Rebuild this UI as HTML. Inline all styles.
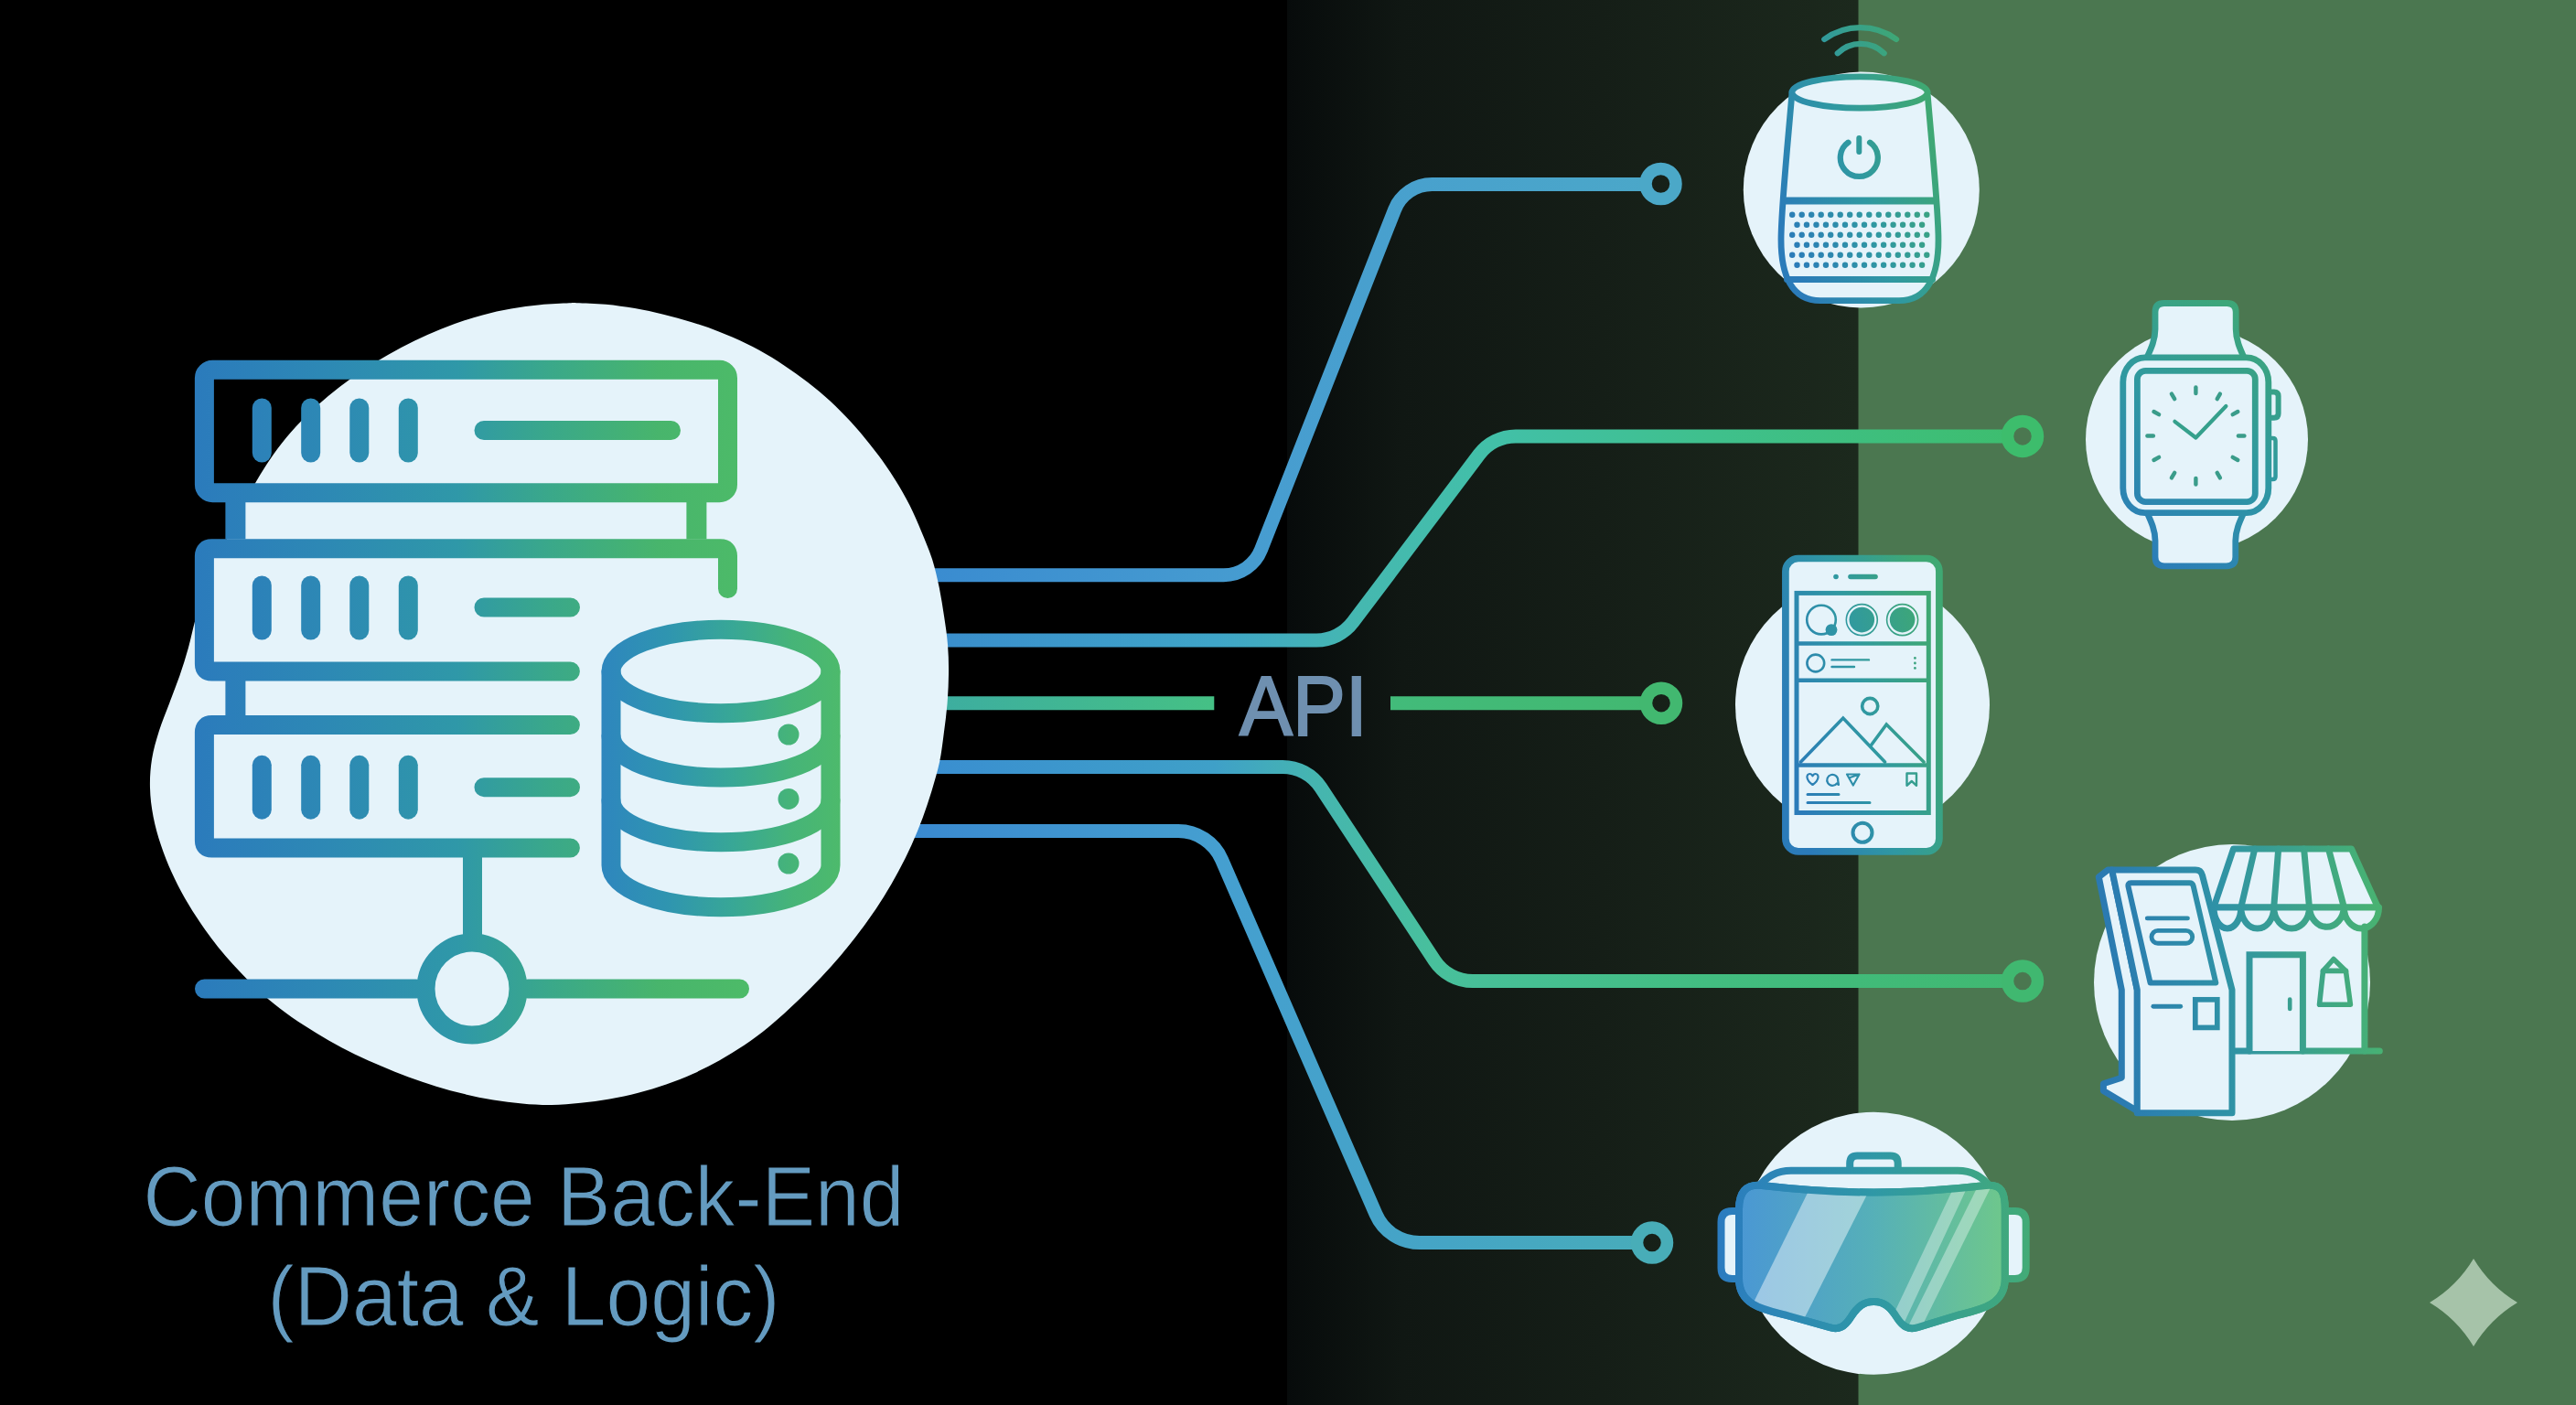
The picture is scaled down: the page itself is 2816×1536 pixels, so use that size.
<!DOCTYPE html>
<html><head><meta charset="utf-8"><title>Commerce Back-End API diagram</title>
<style>
html,body{margin:0;padding:0;background:#000;}
body{width:2816px;height:1536px;overflow:hidden;font-family:"Liberation Sans",sans-serif;}
svg{display:block;}
text{font-family:"Liberation Sans",sans-serif;}
</style></head><body>
<svg width="2816" height="1536" viewBox="0 0 2816 1536">
<defs>
<linearGradient id="bgd" gradientUnits="userSpaceOnUse" x1="1407" y1="0" x2="2031.5" y2="0"><stop offset="0" stop-color="#070b0b"/><stop offset="0.2" stop-color="#101713"/><stop offset="0.55" stop-color="#151e17"/><stop offset="1" stop-color="#1c291d"/></linearGradient>
<linearGradient id="gl1" gradientUnits="userSpaceOnUse" x1="1020" y1="0" x2="1840" y2="0"><stop offset="0" stop-color="#3a8cd0"/><stop offset="0.45" stop-color="#479dd0"/><stop offset="1" stop-color="#4ba8c8"/></linearGradient>
<linearGradient id="gl2" gradientUnits="userSpaceOnUse" x1="1030" y1="0" x2="2235" y2="0"><stop offset="0" stop-color="#3a8ecc"/><stop offset="0.25" stop-color="#3fa5c8"/><stop offset="0.38" stop-color="#45b8b0"/><stop offset="0.5" stop-color="#42c0a8"/><stop offset="0.7" stop-color="#3fc08c"/><stop offset="1" stop-color="#3dbd6c"/></linearGradient>
<linearGradient id="gl3" gradientUnits="userSpaceOnUse" x1="1035" y1="0" x2="1840" y2="0"><stop offset="0" stop-color="#3dae9f"/><stop offset="0.36" stop-color="#45c085"/><stop offset="0.6" stop-color="#42bb7a"/><stop offset="1" stop-color="#42b870"/></linearGradient>
<linearGradient id="gl4" gradientUnits="userSpaceOnUse" x1="1025" y1="0" x2="2235" y2="0"><stop offset="0" stop-color="#3a8fd0"/><stop offset="0.25" stop-color="#3fa0c8"/><stop offset="0.34" stop-color="#45b5b0"/><stop offset="0.45" stop-color="#48c09c"/><stop offset="0.7" stop-color="#42bd80"/><stop offset="1" stop-color="#40b870"/></linearGradient>
<linearGradient id="gl5" gradientUnits="userSpaceOnUse" x1="1000" y1="0" x2="1830" y2="0"><stop offset="0" stop-color="#3a8ad0"/><stop offset="0.4" stop-color="#459fd0"/><stop offset="0.7" stop-color="#45a5c5"/><stop offset="1" stop-color="#48adb8"/></linearGradient>
<linearGradient id="gs" gradientUnits="userSpaceOnUse" x1="213" y1="0" x2="819" y2="0"><stop offset="0" stop-color="#2b7bbc"/><stop offset="0.226" stop-color="#2d88b5"/><stop offset="0.474" stop-color="#2f98a8"/><stop offset="0.639" stop-color="#3aa88a"/><stop offset="0.837" stop-color="#48b56c"/><stop offset="1" stop-color="#4dbb68"/></linearGradient>
<linearGradient id="gdb" gradientUnits="userSpaceOnUse" x1="657" y1="0" x2="918" y2="0"><stop offset="0" stop-color="#2e86be"/><stop offset="0.28" stop-color="#2f95b0"/><stop offset="0.55" stop-color="#38a796"/><stop offset="0.8" stop-color="#46b478"/><stop offset="1" stop-color="#4dba6c"/></linearGradient>
<linearGradient id="gsp" gradientUnits="userSpaceOnUse" x1="1943" y1="235" x2="2124" y2="175"><stop offset="0" stop-color="#2b7bb9"/><stop offset="0.5" stop-color="#2f98a2"/><stop offset="1" stop-color="#3fa873"/></linearGradient>
<linearGradient id="gw" gradientUnits="userSpaceOnUse" x1="2317" y1="600" x2="2494" y2="350"><stop offset="0" stop-color="#2b7bb9"/><stop offset="0.5" stop-color="#2f98a2"/><stop offset="1" stop-color="#3fa873"/></linearGradient>
<linearGradient id="gp" gradientUnits="userSpaceOnUse" x1="1948" y1="790" x2="2124" y2="750"><stop offset="0" stop-color="#2b7bb9"/><stop offset="0.5" stop-color="#2f98a2"/><stop offset="1" stop-color="#3fa873"/></linearGradient>
<linearGradient id="gk" gradientUnits="userSpaceOnUse" x1="2290" y1="1080" x2="2602" y2="1060"><stop offset="0" stop-color="#2a77b3"/><stop offset="0.45" stop-color="#2f92a6"/><stop offset="1" stop-color="#48b272"/></linearGradient>
<linearGradient id="gv" gradientUnits="userSpaceOnUse" x1="1876" y1="1360" x2="2221" y2="1360"><stop offset="0" stop-color="#2b7bc0"/><stop offset="0.5" stop-color="#2f98a6"/><stop offset="1" stop-color="#43ab76"/></linearGradient>
<linearGradient id="gvf" gradientUnits="userSpaceOnUse" x1="1900" y1="1360" x2="2196" y2="1360"><stop offset="0" stop-color="#4a97d4"/><stop offset="0.5" stop-color="#56b0b8"/><stop offset="1" stop-color="#6fc88a"/></linearGradient>
<clipPath id="cv"><path d="M1901,1322C1901,1304 1908,1294 1926,1296C1965,1300.5 2008,1303.5 2048.3,1303.5C2088.6,1303.5 2131.6,1300.5 2170.6,1296C2188.6,1294 2191.8,1304 2191.8,1322V1398C2191.8,1428 2163,1432 2138,1438.5L2097,1451C2086,1454.5 2080,1450 2074,1441C2066,1428 2059,1423 2048.3,1423C2037.6,1423 2030.6,1428 2022.6,1441C2016.6,1450 2010.6,1454.5 1999.6,1451L1955,1438.5C1930,1432 1901,1428 1901,1398Z"/></clipPath>
</defs>
<rect x="0" y="0" width="2816" height="1536" fill="#000"/>
<rect x="1407" y="0" width="625" height="1536" fill="url(#bgd)"/>
<rect x="2031.5" y="0" width="785" height="1536" fill="#4b7750"/>
<path d="M2704,1376 Q2722.0,1406.0 2752,1424 Q2722.0,1442.0 2704,1472 Q2686.0,1442.0 2656,1424 Q2686.0,1406.0 2704,1376Z" fill="#a6c3a9"/>
<path d="M1015,628.7L1337.6,628.7 A44,44 0 0 0 1378.6,600.8L1524.5,229.4 A44,44 0 0 1 1565.5,201.5L1799,201.5" fill="none" stroke="url(#gl1)" stroke-width="15"/>
<circle cx="1815.5" cy="201" r="16.5" fill="none" stroke="#4ba8c8" stroke-width="13.5"/>
<path d="M1028,700L1439.1,700 A50,50 0 0 0 1479,680.1L1617,496.8 A50,50 0 0 1 1656.9,476.9L2195,476.9" fill="none" stroke="url(#gl2)" stroke-width="15"/>
<circle cx="2211" cy="476.9" r="16.5" fill="none" stroke="#3dbd6c" stroke-width="13.5"/>
<path d="M1030,768.7H1327.3M1520,768.7H1800" fill="none" stroke="url(#gl3)" stroke-width="15"/>
<circle cx="1816" cy="768.7" r="16.5" fill="none" stroke="#42b870" stroke-width="13.5"/>
<text x="1425" y="803.8" font-size="93" fill="#6f90b0" stroke="#6f90b0" stroke-width="2.2" text-anchor="middle" textLength="140" lengthAdjust="spacingAndGlyphs">API</text>
<path d="M1020,838.4L1402,838.4 A50,50 0 0 1 1443.8,860.9L1568.2,1050.1 A50,50 0 0 0 1610,1072.6L2195,1072.6" fill="none" stroke="url(#gl4)" stroke-width="15"/>
<circle cx="2211" cy="1072.6" r="16.5" fill="none" stroke="#40b870" stroke-width="13.5"/>
<path d="M995,908.6L1287.9,908.6 A52,52 0 0 1 1335.6,939.9L1504,1327.3 A52,52 0 0 0 1551.7,1358.6L1790,1358.6" fill="none" stroke="url(#gl5)" stroke-width="15"/>
<circle cx="1806" cy="1358.6" r="16.5" fill="none" stroke="#48adb8" stroke-width="13.5"/>
<path d="M630.3,331.2C637,331.5 651.6,331.7 662.2,332.7C672.8,333.7 683.4,335.3 693.9,337.1C704.4,338.9 714.9,341.1 725.2,343.7C735.6,346.2 745.9,349 756.1,352.2C766.3,355.4 776.4,358.8 786.3,362.7C796.2,366.6 806.1,370.7 815.6,375.4C825.2,380.1 834.6,385.2 843.7,390.8C852.8,396.3 861.6,402.4 870.2,408.6C878.9,414.8 887.5,421.2 895.6,428.1C903.8,434.9 911.6,442.2 919.1,449.7C926.7,457.2 933.9,465.1 940.8,473.2C947.7,481.3 954.3,489.8 960.7,498.3C967,506.9 973.1,515.7 978.7,524.7C984.4,533.8 989.7,543 994.5,552.5C999.3,562 1003.4,571.9 1007.5,581.7C1011.6,591.6 1015.8,601.4 1019.1,611.5C1022.3,621.6 1024.6,632.1 1026.8,642.5C1028.9,652.9 1030.5,663.5 1032.1,674.1C1033.7,684.6 1035.3,695.2 1036.1,705.8C1036.9,716.4 1037.2,727.1 1037,737.7C1036.9,748.4 1036.3,759.1 1035.5,769.7C1034.6,780.3 1033.2,790.9 1031.8,801.5C1030.4,812 1029.3,822.7 1027.1,833.1C1024.9,843.5 1021.7,853.7 1018.7,863.9C1015.6,874.1 1012.3,884.3 1008.6,894.3C1004.9,904.3 1000.9,914.1 996.5,923.8C992.1,933.5 987.3,943.1 982.2,952.5C977.2,961.9 971.9,971.1 966.2,980.2C960.6,989.2 954.6,998.1 948.4,1006.7C942.2,1015.4 935.7,1023.9 929.1,1032.2C922.4,1040.6 915.5,1048.7 908.4,1056.7C901.3,1064.6 893.9,1072.3 886.4,1079.9C878.9,1087.5 871.3,1095 863.4,1102.2C855.6,1109.5 847.7,1116.7 839.4,1123.4C831.2,1130.1 822.6,1136.6 813.8,1142.6C805,1148.5 795.9,1154.1 786.6,1159.3C777.3,1164.5 767.8,1169.3 758,1173.7C748.3,1178.1 738.4,1181.9 728.3,1185.4C718.2,1188.9 708,1192 697.7,1194.7C687.4,1197.4 676.9,1199.7 666.4,1201.5C655.9,1203.4 645.3,1204.8 634.7,1205.8C624.1,1206.9 613.5,1207.8 602.8,1207.9C592.2,1208 581.5,1207.4 570.9,1206.4C560.3,1205.5 549.7,1204.1 539.2,1202.4C528.7,1200.7 518.2,1198.5 507.8,1196.1C497.4,1193.6 487.1,1190.8 476.9,1187.7C466.7,1184.6 456.6,1181.1 446.6,1177.4C436.6,1173.7 426.7,1169.7 416.9,1165.5C407.1,1161.4 397.3,1157.1 387.7,1152.4C378.1,1147.7 368.7,1142.7 359.4,1137.5C350.1,1132.2 341,1126.7 332.1,1120.8C323.2,1115 314.4,1108.9 306,1102.4C297.5,1095.9 289.4,1089 281.6,1081.7C273.7,1074.5 266.3,1066.8 259.1,1059C251.8,1051.2 244.8,1043.2 238.1,1034.9C231.4,1026.5 225.1,1017.9 219.1,1009.1C213.1,1000.3 207.4,991.3 202.1,982C196.9,972.8 192,963.3 187.6,953.6C183.2,943.9 179.2,933.9 175.9,923.8C172.5,913.7 169.6,903.4 167.6,893C165.6,882.6 164.2,871.9 164,861.3C163.7,850.8 164.4,840 166.1,829.6C167.8,819.2 170.8,808.9 174,798.7C177.2,788.6 181.4,778.7 185.2,768.7C188.9,758.7 192.9,748.8 196.4,738.8C199.8,728.7 203,718.5 205.9,708.2C208.8,698 210.7,687.4 213.6,677.2C216.6,666.9 219.8,656.8 223.4,646.8C227.1,636.8 231.4,627 235.6,617.1C239.7,607.3 244.1,597.6 248.6,587.9C253.1,578.2 257.8,568.6 262.6,559.1C267.4,549.6 272.2,540.1 277.5,530.8C282.8,521.5 288.3,512.4 294.3,503.5C300.2,494.7 306.5,486.1 313.3,477.9C320.1,469.7 327.4,461.9 335,454.4C342.6,447 350.6,439.9 358.8,433.1C367,426.3 375.4,419.7 384.1,413.5C392.7,407.3 401.7,401.4 410.8,395.8C419.8,390.2 429.1,384.9 438.5,379.9C447.9,374.9 457.6,370.3 467.3,366C477.1,361.7 487,357.8 497,354.1C507,350.5 517.2,347.1 527.5,344.4C537.7,341.6 548.2,339.3 558.7,337.5C569.2,335.6 579.8,334.2 590.4,333.2C601,332.2 615.6,331.7 622.3,331.3C629,331 623.6,331 630.3,331.2Z" fill="#e5f3fa"/>
<rect x="226" y="602" width="70" height="100" fill="#e5f3fa"/>
<g fill="none" stroke="url(#gs)" stroke-width="21" stroke-linecap="round" stroke-linejoin="round">
<rect x="223.4" y="404.2" width="572.1" height="134.5" rx="9"/>
<path d="M257.4,549V589.5M761.4,549V589.5M257.4,744V783" stroke-linecap="butt" stroke-width="22"/>
<path d="M795.5,643.5V607.8Q795.5,599.8 787.5,599.8H231.4Q223.4,599.8 223.4,607.8V726Q223.4,734 231.4,734H623.4"/>
<path d="M623.4,792.6H231.4Q223.4,792.6 223.4,800.6V919Q223.4,927 231.4,927H623.4"/>
<path d="M286.3,446V495"/>
<path d="M339.7,446V495"/>
<path d="M392.8,446V495"/>
<path d="M446.3,446V495"/>
<path d="M286.3,640V689"/>
<path d="M339.7,640V689"/>
<path d="M392.8,640V689"/>
<path d="M446.3,640V689"/>
<path d="M286.3,836.3V885.2"/>
<path d="M339.7,836.3V885.2"/>
<path d="M392.8,836.3V885.2"/>
<path d="M446.3,836.3V885.2"/>
<path d="M529,470.5H733.5M529,664H623.5M529,860.7H623.5"/>
<path d="M516.5,927V1031" stroke-linecap="butt"/>
<circle cx="516" cy="1081" r="50.5" stroke-width="20"/>
<path d="M223.5,1081H455M577,1081H808.5"/>
</g>
<g fill="none" stroke="url(#gdb)" stroke-width="21" stroke-linecap="round" stroke-linejoin="round">
<ellipse cx="788" cy="734" rx="120" ry="45.7"/>
<path d="M668,734V946A120,45.7 0 0 0 908,946V734"/>
<path d="M668,804.3A120,45.7 0 0 0 908,804.3"/>
<path d="M668,875A120,45.7 0 0 0 908,875"/>
</g>
<g fill="url(#gdb)"><circle cx="862" cy="803" r="11.5"/><circle cx="862" cy="873.4" r="11.5"/><circle cx="862" cy="944" r="11.5"/></g>
<circle cx="2034.8" cy="207.5" r="129" fill="#e5f3fa"/>
<g fill="none" stroke="url(#gsp)" stroke-width="6.3" stroke-linecap="round"><path d="M1994.3,43A66.9,66.9 0 0 1 2073,43"/><path d="M2008.8,58.2A36.2,36.2 0 0 1 2059.6,58.2"/></g>
<g fill="none" stroke="url(#gsp)" stroke-width="6.8" stroke-linecap="round" stroke-linejoin="round">
<path d="M1959,101C1955,150 1947,228 1947,262C1947,300 1958,328.7 1990,328.7L2076,328.7C2108,328.7 2119,300 2119,262C2119,228 2111,150 2107,101Z" fill="#e5f3fa"/>
<ellipse cx="2033" cy="101" rx="74" ry="17.2" fill="#e5f3fa"/>
<path d="M1950.5,219.6H2115.5" stroke-width="8"/>
<path d="M1953.5,305.5H2112.5" stroke-width="7"/>
<path d="M2044.1,155.7A20.5,20.5 0 1 1 2020.5,155.7" stroke-width="6.3"/>
<path d="M2032.3,151V166" stroke-width="6"/>
</g>
<g fill="url(#gsp)"><circle cx="1959.2" cy="234.8" r="3.2"/><circle cx="1969.7" cy="234.8" r="3.2"/><circle cx="1980.2" cy="234.8" r="3.2"/><circle cx="1990.7" cy="234.8" r="3.2"/><circle cx="2001.2" cy="234.8" r="3.2"/><circle cx="2011.7" cy="234.8" r="3.2"/><circle cx="2022.2" cy="234.8" r="3.2"/><circle cx="2032.7" cy="234.8" r="3.2"/><circle cx="2043.3" cy="234.8" r="3.2"/><circle cx="2053.8" cy="234.8" r="3.2"/><circle cx="2064.3" cy="234.8" r="3.2"/><circle cx="2074.8" cy="234.8" r="3.2"/><circle cx="2085.3" cy="234.8" r="3.2"/><circle cx="2095.8" cy="234.8" r="3.2"/><circle cx="2106.3" cy="234.8" r="3.2"/><circle cx="1964.5" cy="245.8" r="3.2"/><circle cx="1975" cy="245.8" r="3.2"/><circle cx="1985.5" cy="245.8" r="3.2"/><circle cx="1996" cy="245.8" r="3.2"/><circle cx="2006.5" cy="245.8" r="3.2"/><circle cx="2017" cy="245.8" r="3.2"/><circle cx="2027.5" cy="245.8" r="3.2"/><circle cx="2038" cy="245.8" r="3.2"/><circle cx="2048.6" cy="245.8" r="3.2"/><circle cx="2059.1" cy="245.8" r="3.2"/><circle cx="2069.6" cy="245.8" r="3.2"/><circle cx="2080.1" cy="245.8" r="3.2"/><circle cx="2090.6" cy="245.8" r="3.2"/><circle cx="2101.1" cy="245.8" r="3.2"/><circle cx="1959.2" cy="256.8" r="3.2"/><circle cx="1969.7" cy="256.8" r="3.2"/><circle cx="1980.2" cy="256.8" r="3.2"/><circle cx="1990.7" cy="256.8" r="3.2"/><circle cx="2001.2" cy="256.8" r="3.2"/><circle cx="2011.7" cy="256.8" r="3.2"/><circle cx="2022.2" cy="256.8" r="3.2"/><circle cx="2032.7" cy="256.8" r="3.2"/><circle cx="2043.3" cy="256.8" r="3.2"/><circle cx="2053.8" cy="256.8" r="3.2"/><circle cx="2064.3" cy="256.8" r="3.2"/><circle cx="2074.8" cy="256.8" r="3.2"/><circle cx="2085.3" cy="256.8" r="3.2"/><circle cx="2095.8" cy="256.8" r="3.2"/><circle cx="2106.3" cy="256.8" r="3.2"/><circle cx="1964.5" cy="267.8" r="3.2"/><circle cx="1975" cy="267.8" r="3.2"/><circle cx="1985.5" cy="267.8" r="3.2"/><circle cx="1996" cy="267.8" r="3.2"/><circle cx="2006.5" cy="267.8" r="3.2"/><circle cx="2017" cy="267.8" r="3.2"/><circle cx="2027.5" cy="267.8" r="3.2"/><circle cx="2038" cy="267.8" r="3.2"/><circle cx="2048.6" cy="267.8" r="3.2"/><circle cx="2059.1" cy="267.8" r="3.2"/><circle cx="2069.6" cy="267.8" r="3.2"/><circle cx="2080.1" cy="267.8" r="3.2"/><circle cx="2090.6" cy="267.8" r="3.2"/><circle cx="2101.1" cy="267.8" r="3.2"/><circle cx="1959.2" cy="278.8" r="3.2"/><circle cx="1969.7" cy="278.8" r="3.2"/><circle cx="1980.2" cy="278.8" r="3.2"/><circle cx="1990.7" cy="278.8" r="3.2"/><circle cx="2001.2" cy="278.8" r="3.2"/><circle cx="2011.7" cy="278.8" r="3.2"/><circle cx="2022.2" cy="278.8" r="3.2"/><circle cx="2032.7" cy="278.8" r="3.2"/><circle cx="2043.3" cy="278.8" r="3.2"/><circle cx="2053.8" cy="278.8" r="3.2"/><circle cx="2064.3" cy="278.8" r="3.2"/><circle cx="2074.8" cy="278.8" r="3.2"/><circle cx="2085.3" cy="278.8" r="3.2"/><circle cx="2095.8" cy="278.8" r="3.2"/><circle cx="2106.3" cy="278.8" r="3.2"/><circle cx="1964.5" cy="289.8" r="3.2"/><circle cx="1975" cy="289.8" r="3.2"/><circle cx="1985.5" cy="289.8" r="3.2"/><circle cx="1996" cy="289.8" r="3.2"/><circle cx="2006.5" cy="289.8" r="3.2"/><circle cx="2017" cy="289.8" r="3.2"/><circle cx="2027.5" cy="289.8" r="3.2"/><circle cx="2038" cy="289.8" r="3.2"/><circle cx="2048.6" cy="289.8" r="3.2"/><circle cx="2059.1" cy="289.8" r="3.2"/><circle cx="2069.6" cy="289.8" r="3.2"/><circle cx="2080.1" cy="289.8" r="3.2"/><circle cx="2090.6" cy="289.8" r="3.2"/><circle cx="2101.1" cy="289.8" r="3.2"/></g>
<circle cx="2401.5" cy="480.5" r="121.5" fill="#e5f3fa"/>
<g fill="#e5f3fa" stroke="url(#gw)" stroke-width="6.8" stroke-linecap="round" stroke-linejoin="round">
<path d="M2346,393C2351,382 2356,372 2356,360V341Q2356,331.5 2365.8,331.5H2434.4Q2444.2,331.5 2444.2,341V360C2444.2,372 2449,382 2454,393Z"/>
<path d="M2346,558C2351,569 2356,579 2356,591V609Q2356,618.8 2366,618.8H2433.8Q2443.8,618.8 2443.8,609V591C2443.8,579 2449,569 2454,558Z"/>
<path d="M2479.8,428.4H2486Q2490.6,428.4 2490.6,433V452Q2490.6,456.8 2486,456.8H2479.8" stroke-width="6"/>
<path d="M2480,479H2484.5Q2487.5,479 2487.5,482V521Q2487.5,524 2484.5,524H2480" stroke-width="4.5"/>
<rect x="2320.8" y="390.8" width="159" height="169.8" rx="24" ry="27"/>
<rect x="2336.4" y="405.4" width="128.9" height="143.2" rx="9"/>
</g>
<g fill="none" stroke="#3a9c8a" stroke-width="4.4" stroke-linecap="round"><path d="M2400.4,430L2400.4,423.5"/><path d="M2423.7,436.2L2426.9,430.6"/><path d="M2440.7,453.2L2446.3,450"/><path d="M2446.9,476.5L2453.4,476.5"/><path d="M2440.7,499.8L2446.3,503"/><path d="M2423.7,516.8L2426.9,522.4"/><path d="M2400.4,523L2400.4,529.5"/><path d="M2377.2,516.8L2373.9,522.4"/><path d="M2360.1,499.8L2354.5,503"/><path d="M2353.9,476.5L2347.4,476.5"/><path d="M2360.1,453.2L2354.5,450"/><path d="M2377.2,436.2L2373.9,430.6"/><path d="M2377.4,460.8L2400.4,478.5L2433.4,444" stroke-width="4.2" stroke-linejoin="round" stroke="#35a08c"/></g>
<circle cx="2036" cy="771" r="139" fill="#e5f3fa"/>
<g fill="none" stroke="url(#gp)" stroke-linecap="round" stroke-linejoin="round">
<rect x="1951.9" y="610.5" width="168" height="320.3" rx="14" stroke-width="7.7" fill="#e5f3fa"/>
<path d="M2023,630.5H2050" stroke-width="5.6"/>
<rect x="1964" y="648.4" width="144.3" height="240.1" stroke-width="5" stroke-linejoin="miter"/>
<path d="M1964,703.5H2108.3M1964,743.7H2108.3M1964,836.5H2108.3" stroke-width="4.6" stroke-linecap="butt"/>
<circle cx="1991" cy="677.6" r="15.8" stroke-width="2.6"/>
<circle cx="2035.3" cy="677.6" r="17" stroke-width="1.6"/>
<circle cx="2079.6" cy="677.6" r="17" stroke-width="1.6"/>
<circle cx="1984.8" cy="725" r="9.4" stroke-width="2.6"/>
<path d="M2002.5,721.4H2043M2002.5,729H2027" stroke-width="2.4"/>
<circle cx="2044.2" cy="772" r="8.6" stroke-width="3.6"/>
<path d="M1968.5,833L2014.8,785L2060.5,833M2044.5,816L2062.2,792L2103,833" stroke-width="3.6" stroke-linejoin="miter"/>
<path d="M1981.5,858C1973.5,852.5 1974.5,846 1978.3,846C1980.5,846 1981.5,848.3 1981.5,848.3C1981.5,848.3 1982.5,846 1984.7,846C1988.5,846 1989.5,852.5 1981.5,858Z" stroke-width="2.2"/>
<path d="M2008,856.5A6,6 0 1 1 2009.2,853.5L2010,858Z" stroke-width="2.2"/>
<path d="M2019,846.5H2032.5L2025.8,858.5ZM2022.5,850L2032.5,846.5" stroke-width="2.2"/>
<path d="M2084.5,845.5H2095V858.8L2089.8,854L2084.5,858.8Z" stroke-width="2.4"/>
<path d="M1976,868.5H2010M1976,877.5H2044" stroke-width="3"/>
<circle cx="2036" cy="910.3" r="10.5" stroke-width="4"/>
</g>
<g fill="url(#gp)"><circle cx="2007" cy="630.5" r="2.8"/><circle cx="2002" cy="688.6" r="6.4"/><circle cx="2035.3" cy="677.6" r="13.8"/><circle cx="2079.6" cy="677.6" r="13.8"/><circle cx="2093.4" cy="719.4" r="1.4"/><circle cx="2093.4" cy="725" r="1.4"/><circle cx="2093.4" cy="730.4" r="1.4"/></g>
<circle cx="2440" cy="1074" r="151" fill="#e5f3fa"/>
<g fill="#e5f3fa" stroke="url(#gk)" stroke-width="7" stroke-linecap="round" stroke-linejoin="round">
<path d="M2436,1010H2584.9V1149.1H2436Z" stroke="none"/>
<path d="M2441.5,928H2570.5L2599.5,992H2420Z"/>
<path d="M2464.8,928L2449.8,992M2490.7,928L2485.7,992M2518.6,928L2524.5,992M2545.5,928L2562.4,992" fill="none"/>
<path d="M2420,992A14.9,23 0 0 0 2449.8,992"/>
<path d="M2449.8,992A17.9,23 0 0 0 2485.7,992"/>
<path d="M2485.7,992A19.4,23 0 0 0 2524.5,992"/>
<path d="M2524.5,992A19,23 0 0 0 2562.4,992"/>
<path d="M2562.4,992A19,23 0 0 0 2600.5,992"/>
<path d="M2420,992H2600" fill="none"/>
<path d="M2584.9,1013V1149.1" fill="none"/>
<path d="M2442,1149.1H2601.3" fill="none"/>
<path d="M2459,1149.1V1043.7H2517.4V1149.1" stroke-linejoin="miter"/>
<path d="M2503.2,1092.5V1103" stroke-width="4.6" fill="none"/>
<path d="M2539.5,1061.4H2564.4L2569.4,1098.3H2535.5Z" stroke-width="5.6"/>
<path d="M2539.5,1061.4L2551,1048.5L2564.4,1061.4" stroke-width="5.6" fill="none"/>
<path d="M2304.3,950.9L2294.3,958.7L2319.3,1082.2V1178.2L2299.4,1184.8V1192.5L2336.3,1214.6V1082.2L2308.7,951Z"/>
<path d="M2308.7,951H2400Q2406,951 2407.5,956.8L2440,1082.2V1216.8H2336.3V1082.2Z"/>
<path d="M2329.5,965.3H2393.5Q2396.9,965.3 2397.7,968.6L2422.3,1074.5H2350.6L2326.6,969.5Q2325.6,965.3 2329.5,965.3Z" stroke-width="6"/>
<path d="M2347.3,1003.9H2391.4" stroke-width="4.9" fill="none"/>
<rect x="2352" y="1017.4" width="44.7" height="13.8" rx="6.9" stroke-width="4.9"/>
<path d="M2353.9,1100.3H2383.7" stroke-width="4.9" fill="none"/>
<rect x="2399.8" y="1092.8" width="24" height="30.6" stroke-width="5.7" stroke-linejoin="miter"/>
</g>
<circle cx="2048.3" cy="1359.3" r="143.5" fill="#e5f3fa"/>
<g stroke="url(#gv)" stroke-width="8" stroke-linecap="round" stroke-linejoin="round" fill="#e5f3fa">
<path d="M2022.2,1281V1272Q2022.2,1263.6 2030.2,1263.6H2066.7Q2074.7,1263.6 2074.7,1272V1281"/>
<path d="M1922,1298C1931,1286 1942,1279.8 1958,1279.8H2140C2156,1279.8 2167,1286 2176,1298"/>
<path d="M1901,1324H1893.5Q1881.5,1324 1881.5,1336V1386Q1881.5,1398 1893.5,1398H1901"/>
<path d="M2191.8,1324H2202.7Q2214.7,1324 2214.7,1336V1386Q2214.7,1398 2202.7,1398H2191.8"/>
<path d="M1901,1322C1901,1304 1908,1294 1926,1296C1965,1300.5 2008,1303.5 2048.3,1303.5C2088.6,1303.5 2131.6,1300.5 2170.6,1296C2188.6,1294 2191.8,1304 2191.8,1322V1398C2191.8,1428 2163,1432 2138,1438.5L2097,1451C2086,1454.5 2080,1450 2074,1441C2066,1428 2059,1423 2048.3,1423C2037.6,1423 2030.6,1428 2022.6,1441C2016.6,1450 2010.6,1454.5 1999.6,1451L1955,1438.5C1930,1432 1901,1428 1901,1398Z" fill="url(#gvf)"/>
</g>
<g clip-path="url(#cv)" fill="#ffffff"><path d="M1980,1296L2046,1296L1968,1450L1904,1450Z" opacity="0.45"/><path d="M2136.7,1296L2151.4,1296L2076,1458L2060,1458Z" opacity="0.36"/><path d="M2162.5,1296L2177.2,1296L2097,1458L2082,1458Z" opacity="0.36"/></g>
<path d="M1901,1322C1901,1304 1908,1294 1926,1296C1965,1300.5 2008,1303.5 2048.3,1303.5C2088.6,1303.5 2131.6,1300.5 2170.6,1296C2188.6,1294 2191.8,1304 2191.8,1322V1398C2191.8,1428 2163,1432 2138,1438.5L2097,1451C2086,1454.5 2080,1450 2074,1441C2066,1428 2059,1423 2048.3,1423C2037.6,1423 2030.6,1428 2022.6,1441C2016.6,1450 2010.6,1454.5 1999.6,1451L1955,1438.5C1930,1432 1901,1428 1901,1398Z" fill="none" stroke="url(#gv)" stroke-width="8" stroke-linejoin="round"/>
<g font-size="93" fill="#649bc0" text-anchor="middle" stroke="#000" stroke-width="1.1"><text x="572.5" y="1339.8" textLength="832" lengthAdjust="spacingAndGlyphs">Commerce Back-End</text><text x="572.5" y="1449.2" textLength="560" lengthAdjust="spacingAndGlyphs">(Data &amp; Logic)</text></g>
</svg>
</body></html>
